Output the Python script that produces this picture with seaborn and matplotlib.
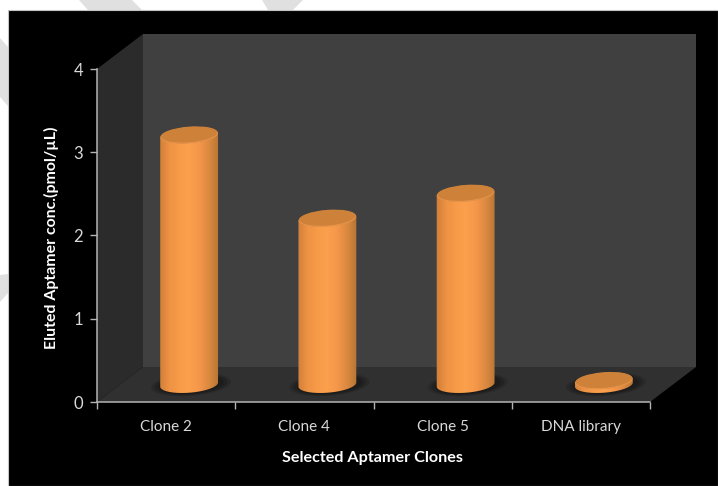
import numpy as np
import pandas as pd
import matplotlib
matplotlib.use("Agg")
import matplotlib.pyplot as plt
import seaborn as sns
from matplotlib.colors import LinearSegmentedColormap
from matplotlib.patches import Ellipse, PathPatch, Polygon, Rectangle
from matplotlib.path import Path
from matplotlib.transforms import IdentityTransform

# Chart data
clones = ["Clone 2", "Clone 4", "Clone 5", "DNA library"]
concentration = [3.0, 2.0, 2.3, 0.05]
y_ticks = [0, 1, 2, 3, 4]
x_title = "Selected Aptamer Clones"
y_title = "Eluted Aptamer conc.(pmol/µL)"

sns.set_theme(style="white")
plt.rcParams["font.family"] = ["Lato", "DejaVu Sans"]

W, H = 718, 486
fig = plt.figure(figsize=(W / 100, H / 100), dpi=100, facecolor="white")


def px(x, y):
    """Top-left pixel position to figure fraction."""
    return x / W, 1 - y / H


# Page: pale diagonal bands behind a black panel
bands = [
    [(79, 0), (132, 0), (142, 10), (88, 10)],
    [(262, 0), (303, 0), (293, 10), (268, 10)],
    [(0, 38), (8, 47), (8, 106), (0, 97)],
    [(0, 275), (8, 274), (8, 293), (0, 302)],
]
for band in bands:
    fig.add_artist(Polygon([px(*p) for p in band], closed=True, transform=fig.transFigure,
                           facecolor="#e0e0e0", edgecolor="none", zorder=-2))
fig.add_artist(Rectangle(px(8, 486), (W - 8) / W, (H - 10) / H, transform=fig.transFigure,
                         facecolor="black", edgecolor="#c4c4c4", linewidth=0.8, zorder=-1))

# The axes rectangle is the front plane of the box
LEFT, RIGHT, TOP, BOTTOM = 97, 650, 69, 402
ax = fig.add_axes([LEFT / W, 1 - BOTTOM / H, (RIGHT - LEFT) / W, (BOTTOM - TOP) / H])
ax.patch.set_visible(False)

frame = pd.DataFrame({"clone": clones, "conc": concentration})
BAR_WIDTH = 57 / ((RIGHT - LEFT) / 4)
sns.barplot(data=frame, x="clone", y="conc", width=BAR_WIDTH, color="#f79b48",
            saturation=1, ax=ax, zorder=3)
ax.set_xlim(-0.5, 3.5)
ax.set_ylim(0, 4)

# Box depth, in pixels
DX, DY = 46, 35


def box(points, color, z):
    """Wall or floor polygon given as top-left pixel positions."""
    verts = [(x, H - y) for x, y in points]
    fig_poly = Polygon(verts, closed=True, transform=IdentityTransform(), facecolor=color,
                       edgecolor="none", zorder=z, clip_on=False)
    ax.add_patch(fig_poly)


box([(LEFT + DX, TOP - DY), (RIGHT + DX, TOP - DY), (RIGHT + DX, BOTTOM - DY), (LEFT + DX, BOTTOM - DY)],
    "#404040", 0)
box([(LEFT, TOP), (LEFT + DX, TOP - DY), (LEFT + DX, BOTTOM - DY), (LEFT, BOTTOM)], "#2b2b2b", 0.5)
box([(LEFT, BOTTOM), (LEFT + DX, BOTTOM - DY), (RIGHT + DX, BOTTOM - DY), (RIGHT, BOTTOM)], "#303030", 0.5)

# Cylinders: each seaborn bar sets the position and height, drawn half way into the box
side_shade = LinearSegmentedColormap.from_list(
    "side", ["#cf7f38", "#ee9244", "#f79b48", "#fba04c", "#f5974a", "#dc8a40", "#b97636"])
RX, RY, TILT = 29.0, 8.2, 4.5
theta = np.linspace(np.pi, 2 * np.pi, 60)
rad = np.radians(TILT)

for bar in list(ax.patches):
    if not isinstance(bar, Rectangle) or bar.get_height() == 0:
        continue
    (x0, y0) = ax.transData.transform((bar.get_x(), 0))
    (x1, y1) = ax.transData.transform((bar.get_x() + bar.get_width(), bar.get_height()))
    cx = (x0 + x1) / 2 + DX / 2
    base_y = y0 + DY / 2
    top_y = y1 + DY / 2
    bar.set_visible(False)

    def rim(cy, t):
        ex, ey = RX * np.cos(t), RY * np.sin(t)
        return cx + ex * np.cos(rad) - ey * np.sin(rad), cy + ex * np.sin(rad) + ey * np.cos(rad)

    # Soft contact shadow on the floor
    for grow, alpha in ((1.38, 0.25), (1.26, 0.35), (1.14, 0.45)):
        ax.add_patch(Ellipse((cx + 2, base_y), 2 * RX * grow, 2 * RY * grow, angle=TILT,
                             transform=IdentityTransform(), facecolor="#161616", alpha=alpha,
                             edgecolor="none", zorder=1, clip_on=False))

    # Body outline: lower half of the base joined to the lower half of the top rim
    bx, by = rim(base_y, theta)
    tx, ty = rim(top_y, theta[::-1])
    outline = np.column_stack([np.r_[bx, tx], np.r_[by, ty]])
    body = PathPatch(Path(np.vstack([outline, outline[0]])), transform=IdentityTransform(),
                     facecolor="none", edgecolor="none", zorder=3)
    ax.add_patch(body)
    grad = ax.imshow(np.linspace(0, 1, 64)[None, :], cmap=side_shade, aspect="auto",
                     extent=(cx - RX - 1, cx + RX + 1, base_y - RY - 6, top_y + RY + 6),
                     transform=IdentityTransform(), zorder=3, clip_on=True)
    grad.set_clip_path(body)

    # Lighter rim followed by the top face
    ax.add_patch(Ellipse((cx, top_y - 0.6), 2 * RX, 2 * RY, angle=TILT, transform=IdentityTransform(),
                         facecolor="#e8934a", edgecolor="none", zorder=4, clip_on=False))
    ax.add_patch(Ellipse((cx, top_y + 0.3), 2 * RX - 1.2, 2 * RY - 0.8, angle=TILT, transform=IdentityTransform(),
                         facecolor="#cd8139", edgecolor="none", zorder=5, clip_on=False))

ax.set_xlim(-0.5, 3.5)
ax.set_ylim(0, 4)

# Axes, ticks and labels
sns.despine(ax=ax, top=True, right=True)
for side in ("left", "bottom"):
    ax.spines[side].set_color("#b4b4b4")
    ax.spines[side].set_linewidth(1.1)
ax.set_yticks(y_ticks)
ax.set_xticks(range(len(clones)), clones)
ax.set_xticks(np.arange(-0.5, 4), minor=True)
ax.tick_params(axis="x", which="major", length=0, pad=13, labelsize=11, labelcolor="#d9d9d9")
ax.tick_params(axis="x", which="minor", length=5, width=1, color="#b4b4b4", bottom=True)
ax.tick_params(axis="y", length=5, width=1, color="#b4b4b4", left=True, pad=5,
               labelsize=12, labelcolor="#d9d9d9")
ax.set_xlabel("")
ax.set_ylabel("")
fig.text(373 / W, 1 - 458 / H, x_title, ha="center", va="center", color="white",
         fontsize=11.6, fontweight="bold")
fig.text(51 / W, 1 - 238 / H, y_title, ha="center", va="center", rotation=90, color="white",
         fontsize=11.4, fontweight="bold")

fig.savefig("out.png", dpi=100, facecolor="white")
